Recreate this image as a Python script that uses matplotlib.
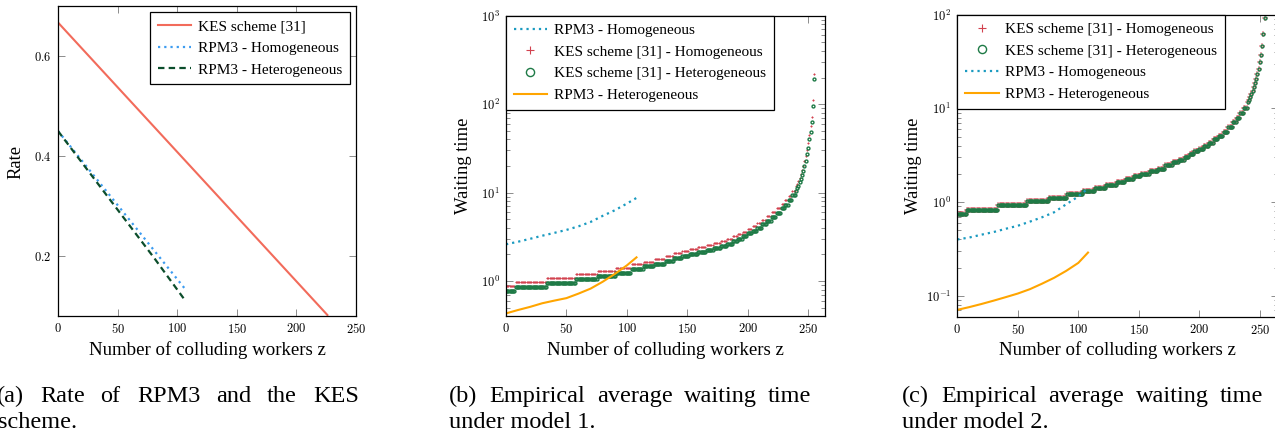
import numpy as np
import matplotlib
matplotlib.use("Agg")
import matplotlib.pyplot as plt
from matplotlib.ticker import FuncFormatter, LogLocator, NullFormatter

plt.rcParams['font.family'] = ['Liberation Serif', 'DejaVu Serif']
plt.rcParams['mathtext.fontset'] = 'cm'

# ----------------------------------------------------------
# (a) rate of RPM3 and KES
# ----------------------------------------------------------
kes_rate_z = [0, 226]
kes_rate = [0.667, 0.082]
rpm_hom_rate_z = [0, 27, 54, 81, 108]
rpm_hom_rate = [0.45, 0.37, 0.29, 0.21, 0.13]
rpm_het_rate_z = [0, 27, 54, 81, 107]
rpm_het_rate = [0.45, 0.365, 0.28, 0.195, 0.11]

# ----------------------------------------------------------
# (b), (c) waiting times
# KES points: one per z, constant on each step that starts at seg_start
# ----------------------------------------------------------
seg_start = [0, 8, 34, 58, 76, 91, 104, 114, 123, 132,
             139, 146, 152, 159, 166, 172, 178, 183, 188, 192,
             196, 200, 204, 208, 212, 216, 220, 224, 228, 231,
             234, 237, 240,
             241, 242, 243, 244, 245, 246, 247, 248, 249, 250, 251, 252, 253, 254, 255]

kes_hom_b = [0.88, 0.97, 1.08, 1.19, 1.29, 1.40, 1.54, 1.65, 1.76, 1.92,
             2.06, 2.17, 2.30, 2.42, 2.52, 2.66, 2.82, 2.98, 3.20, 3.40,
             3.62, 3.90, 4.18, 4.52, 4.92, 5.38, 5.95, 6.65, 7.45, 8.20,
             9.20, 10.4, 11.8,
             12.6, 13.6, 14.8, 16.3, 18.0, 20.0, 22.7, 26.0, 30.5, 36.5, 45.0, 56.0, 72.0, 110, 219]
kes_het_b = [0.77, 0.86, 0.96, 1.05, 1.15, 1.24, 1.36, 1.46, 1.56, 1.70,
             1.82, 1.92, 2.04, 2.15, 2.24, 2.36, 2.50, 2.65, 2.84, 3.02,
             3.22, 3.46, 3.72, 4.02, 4.38, 4.78, 5.28, 5.90, 6.62, 7.30,
             8.20, 9.30, 10.5,
             11.2, 12.0, 13.1, 14.4, 15.9, 17.7, 20.1, 23.0, 27.0, 32.3, 40.0, 49.0, 63.0, 95.0, 192]
# in (c) both KES series sit on top of each other
kes_hom_c = [0.75, 0.835, 0.94, 1.02, 1.11, 1.21, 1.31, 1.42, 1.52, 1.65,
             1.77, 1.88, 2.00, 2.13, 2.28, 2.50, 2.68, 2.85, 3.05, 3.25,
             3.48, 3.72, 3.98, 4.30, 4.70, 5.10, 5.65, 6.30, 7.10, 7.90,
             8.90, 10.1, 11.6,
             12.4, 13.3, 14.3, 15.5, 16.9, 18.6, 20.7, 23.3, 26.6, 31.0, 37.0, 46.5, 62.0, 93.0, 186]
kes_het_c = kes_hom_c

rpm_z = [0, 10, 20, 30, 40, 50, 60, 70, 80, 90, 100, 108]
rpm_hom_b = [2.60, 2.78, 3.00, 3.25, 3.50, 3.78, 4.15, 4.65, 5.45, 6.30, 7.50, 8.70]
rpm_het_b = [0.43, 0.47, 0.51, 0.56, 0.60, 0.64, 0.72, 0.82, 0.98, 1.20, 1.50, 1.85]
rpm_hom_c = [0.40, 0.42, 0.45, 0.48, 0.52, 0.56, 0.62, 0.69, 0.78, 0.95, 1.15, 1.40]
rpm_het_c = [0.071, 0.076, 0.082, 0.089, 0.097, 0.106, 0.118, 0.135, 0.156, 0.185, 0.225, 0.29]

kes_z = np.arange(0, 256)
idx = np.searchsorted(seg_start, kes_z, side='right') - 1

# colours
c_kes_line = '#f26b5b'
c_blue_a = '#3d9cf0'
c_green_a = '#0b4d2b'
c_teal = '#1a9ac0'
c_red = '#d2424f'
c_green = '#1e7a46'
c_orange = '#ffa500'

W, H = 1275, 432
fig = plt.figure(figsize=(W/100, H/100), dpi=100)


def px_axes(left, top, right, bottom):
    return fig.add_axes([left/W, 1 - bottom/H, (right - left)/W, (bottom - top)/H])


def style(ax, log=False):
    for s in ax.spines.values():
        s.set_linewidth(0.9)
        s.set_color('black')
    ax.tick_params(which='both', direction='in', top=True, right=True,
                   color='0.55', width=0.7, labelsize=9, pad=4.5)
    ax.tick_params(which='major', length=5)
    ax.tick_params(which='minor', length=3)
    ax.set_xticks([0, 50, 100, 150, 200, 250])
    ax.xaxis.set_major_formatter(FuncFormatter(lambda v, p: f'${v:g}$'))
    if log:
        ax.set_yscale('log')
        ax.yaxis.set_major_locator(LogLocator(base=10))
        ax.yaxis.set_minor_locator(LogLocator(base=10, subs=np.arange(2, 10)))
        ax.yaxis.set_minor_formatter(NullFormatter())
        ax.yaxis.set_major_formatter(
            FuncFormatter(lambda v, p: f'$10^{{{int(round(np.log10(v)))}}}$'))
    else:
        ax.yaxis.set_major_formatter(FuncFormatter(lambda v, p: f'${v:g}$'))


def legend(ax, loc, pad):
    leg = ax.legend(loc=loc, fontsize=11, frameon=True, fancybox=False,
                    edgecolor='black', framealpha=1, borderaxespad=pad,
                    handlelength=2.2, handletextpad=0.45, labelspacing=0.52,
                    borderpad=0.5, markerscale=2.8)
    leg.get_frame().set_linewidth(0.9)
    return leg


dotted = (0, (1, 1.8))
mk = 2.1

# (a)
ax_a = px_axes(58, 6, 356, 316)
style(ax_a)
ax_a.plot(kes_rate_z, kes_rate, '-', color=c_kes_line, lw=1.5, label='KES scheme [31]')
ax_a.plot(rpm_hom_rate_z, rpm_hom_rate, color=c_blue_a, lw=1.6, ls=dotted,
          label='RPM3 - Homogeneous')
ax_a.plot(rpm_het_rate_z, rpm_het_rate, color=c_green_a, lw=1.6, ls=(0, (2.9, 1.9)),
          label='RPM3 - Heterogeneous')
ax_a.set_xlim(0, 250)
ax_a.set_ylim(0.08, 0.70)
ax_a.set_yticks([0.2, 0.4, 0.6])
legend(ax_a, 'upper right', 0.4)

# (b)
ax_b = px_axes(506, 15.7, 825, 315.7)
style(ax_b, log=True)
ax_b.plot(rpm_z, rpm_hom_b, color=c_teal, lw=1.6, ls=dotted, label='RPM3 - Homogeneous')
ax_b.plot(kes_z, np.array(kes_hom_b)[idx], '+', color=c_red, ms=mk, mew=0.8,
          label='KES scheme [31] - Homogeneous')
ax_b.plot(kes_z, np.array(kes_het_b)[idx], 'o', color=c_green, mfc='none', ms=mk, mew=1.0,
          label='KES scheme [31] - Heterogeneous')
ax_b.plot(rpm_z, rpm_het_b, '-', color=c_orange, lw=1.5, label='RPM3 - Heterogeneous')
ax_b.set_xlim(0, 264)
ax_b.set_ylim(0.405, 1000)
legend(ax_b, 'upper left', 0)

# (c)
ax_c = px_axes(957.3, 14.7, 1278, 316.7)
style(ax_c, log=True)
ax_c.plot(kes_z, np.array(kes_hom_c)[idx], '+', color=c_red, alpha=0.5, ms=mk + 2.2, mew=1.2,
          label='KES scheme [31] - Homogeneous')
ax_c.plot(kes_z, np.array(kes_het_c)[idx], 'o', color=c_green, mfc='none', ms=mk, mew=1.0,
          label='KES scheme [31] - Heterogeneous')
ax_c.plot(rpm_z, rpm_hom_c, color=c_teal, lw=1.6, ls=dotted, label='RPM3 - Homogeneous')
ax_c.plot(rpm_z, rpm_het_c, '-', color=c_orange, lw=1.5, label='RPM3 - Heterogeneous')
ax_c.set_xlim(0, 265)
ax_c.set_ylim(0.06, 100)
leg_c = legend(ax_c, 'upper left', 0)
leg_c.legend_handles[0].set_markersize(mk * 2.8)
leg_c.legend_handles[0].set_markeredgewidth(0.8)
leg_c.legend_handles[0].set_alpha(1)

# axis labels
xlab = 'Number of colluding workers z'
for cx in [207, 665.5, 1117.5]:
    fig.text(cx/W, 1 - 350/H, xlab, ha='center', va='center', fontsize=13.6)
fig.text(16/W, 1 - 162/H, 'Rate', rotation=90, ha='center', va='center', fontsize=13.4)
fig.text(463/W, 1 - 166/H, 'Waiting time', rotation=90, ha='center', va='center', fontsize=13.4)
fig.text(913/W, 1 - 166/H, 'Waiting time', rotation=90, ha='center', va='center', fontsize=13.4)

# captions (justified first line, words placed by hand)
cap_size = 17.5
line1 = [
    [('(a)', -3), ('Rate', 40), ('of', 100), ('RPM3', 137), ('and', 216), ('the', 267), ('KES', 313)],
    [('(b)', 449), ('Empirical', 489), ('average', 597), ('waiting', 684), ('time', 768)],
    [('(c)', 902), ('Empirical', 941), ('average', 1048), ('waiting', 1136), ('time', 1220)],
]
line2 = [('scheme.', -2), ('under model 1.', 449), ('under model 2.', 902)]
for words in line1:
    for w, x in words:
        fig.text(x/W, 1 - 402/H, w, ha='left', va='baseline', fontsize=cap_size)
for w, x in line2:
    fig.text(x/W, 1 - 428/H, w, ha='left', va='baseline', fontsize=cap_size)

fig.savefig('out.png', dpi=100)
